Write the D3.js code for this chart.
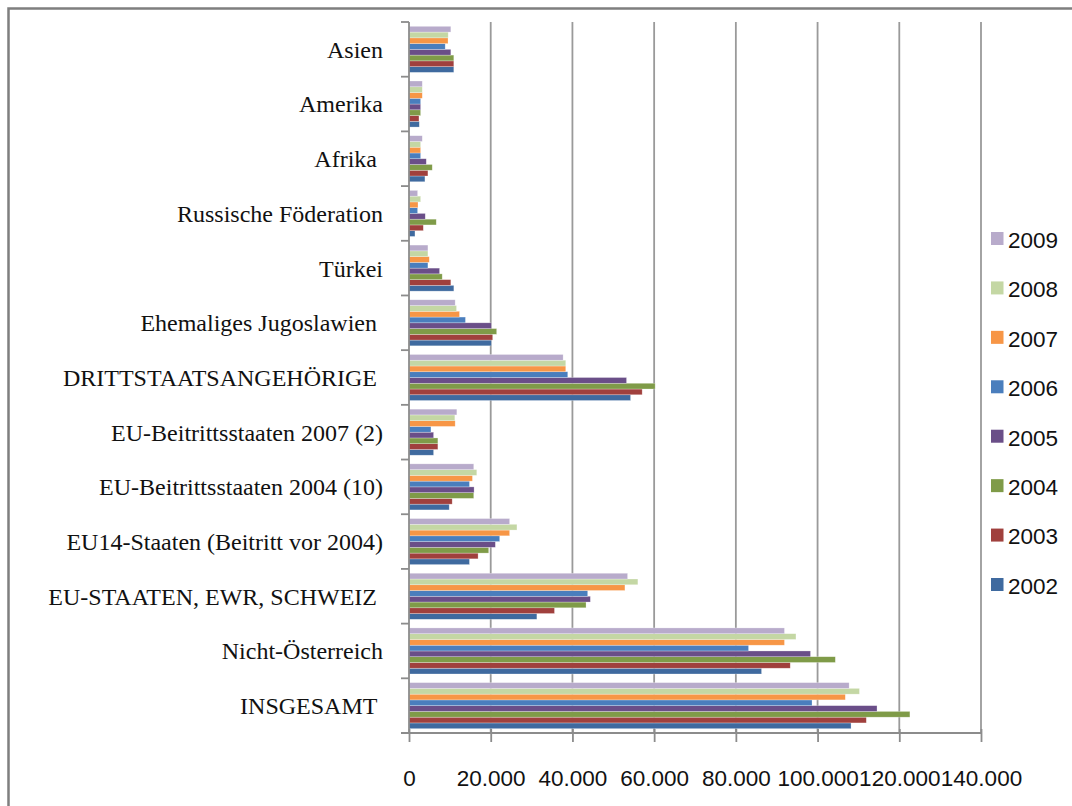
<!DOCTYPE html>
<html>
<head>
<meta charset="utf-8">
<script src="https://cdn.jsdelivr.net/npm/d3@7"></script>
<style>
  html, body { margin: 0; padding: 0; background: #fff; }
  svg { display: block; }
</style>
</head>
<body>
<svg id="chart" width="1072" height="806"></svg>
<script>
// Categories, top to bottom
const categories = [
  "Asien",
  "Amerika",
  "Afrika ",
  "Russische Föderation",
  "Türkei",
  "Ehemaliges Jugoslawien ",
  "DRITTSTAATSANGEHÖRIGE ",
  "EU-Beitrittsstaaten 2007 (2)",
  "EU-Beitrittsstaaten 2004 (10)",
  "EU14-Staaten (Beitritt vor 2004)",
  "EU-STAATEN, EWR, SCHWEIZ ",
  "Nicht-Österreich",
  "INSGESAMT "
];

const years = ["2002", "2003", "2004", "2005", "2006", "2007", "2008", "2009"];

// One array per year, values in category order
const v2002 = [10970, 2520, 3900, 1460, 10980, 20160, 54230, 6020, 9840, 14800, 31300, 86290, 108190];
const v2003 = [10970, 2440, 4630, 3500, 10240, 20490, 57070, 7070, 10570, 16910, 35610, 93310, 111930];
const v2004 = [10970, 2850, 5690, 6670, 8130, 21460, 60240, 7070, 15850, 19510, 43330, 104350, 122600];
const v2005 = [10240, 2850, 4230, 3980, 7480, 20160, 53250, 6020, 15930, 21140, 44390, 98270, 114550];
const v2006 = [8860, 2850, 2850, 2110, 4630, 13820, 38860, 5370, 14800, 22200, 43740, 83110, 98640];
const v2007 = [9550, 3250, 2850, 2200, 4960, 12360, 38370, 11300, 15530, 24630, 52850, 91900, 106790];
const v2008 = [9590, 3250, 2850, 2850, 4630, 11630, 38370, 11220, 16590, 26420, 56020, 94710, 110250];
const v2009 = [10240, 3250, 3250, 2110, 4630, 11300, 37720, 11710, 15850, 24630, 53500, 91900, 107720];

const seriesValues = [v2002, v2003, v2004, v2005, v2006, v2007, v2008, v2009];
const seriesColors = ["#3f6a9f", "#a0403d", "#7f9b48", "#6a4e88", "#4a7ebd", "#f79646", "#c4d7a4", "#b8abcb"];

const xTicks = [0, 20000, 40000, 60000, 80000, 100000, 120000, 140000];

const svg = d3.select("#chart");

// Outer frame of the chart area
svg.append("rect")
  .attr("x", 8.5).attr("y", 8.5)
  .attr("width", 1100).attr("height", 900)
  .attr("fill", "#fff")
  .attr("stroke", "#7f7f7f")
  .attr("stroke-width", 2.5);

const plot = { left: 409, right: 981, top: 22, bottom: 733 };

const x = d3.scaleLinear().domain([0, 140000]).range([plot.left, plot.right]);

const gapRatio = 1.5 / 9.5; // Excel-style 150% gap width
const y0 = d3.scaleBand()
  .domain(categories)
  .range([plot.top, plot.bottom])
  .paddingInner(gapRatio)
  .paddingOuter(gapRatio / 2);

// Newest year drawn on top within each group
const y1 = d3.scaleBand()
  .domain(years.slice().reverse())
  .range([0, y0.bandwidth()]);

const de = d3.formatLocale({ decimal: ",", thousands: ".", grouping: [3], currency: ["", " €"] });
const fmt = de.format(",d");

// Vertical gridlines
svg.append("g")
  .selectAll("line")
  .data(xTicks.slice(1))
  .join("line")
  .attr("x1", d => x(d)).attr("x2", d => x(d))
  .attr("y1", plot.top).attr("y2", plot.bottom)
  .attr("stroke", "#9a9a9a")
  .attr("stroke-width", 1.8);

// Bars
const groups = svg.append("g")
  .selectAll("g")
  .data(years)
  .join("g")
  .attr("fill", (d, i) => seriesColors[i]);

groups.selectAll("rect")
  .data((yr, i) => categories.map((c, j) => ({ cat: c, year: yr, value: seriesValues[i][j] })))
  .join("rect")
  .attr("x", x(0))
  .attr("y", d => y0(d.cat) + y1(d.year))
  .attr("width", d => x(d.value) - x(0))
  .attr("height", y1.bandwidth())
  .attr("stroke", "#ffffff")
  .attr("stroke-opacity", 0.45)
  .attr("stroke-width", 0.6);

// Bottom axis
const xAxis = d3.axisBottom(x)
  .tickValues(xTicks)
  .tickFormat(d => fmt(d))
  .tickSize(9)
  .tickSizeOuter(0)
  .tickPadding(28);

const gx = svg.append("g")
  .attr("transform", `translate(0,${plot.bottom})`)
  .call(xAxis);
gx.select(".domain").attr("stroke", "#8c8c8c").attr("stroke-width", 1.8)
  .attr("d", `M${plot.left - 8},0H${plot.right}`);
gx.selectAll(".tick line").attr("stroke", "#8c8c8c").attr("stroke-width", 1.8).attr("y1", -4);
gx.selectAll(".tick text")
  .attr("font-family", "'Liberation Sans', Arial, sans-serif")
  .attr("font-size", "22.5px")
  .attr("fill", "#111");

// Left axis: line, boundary ticks between categories, labels
const ga = svg.append("g");
ga.append("line")
  .attr("x1", plot.left).attr("x2", plot.left)
  .attr("y1", plot.top).attr("y2", plot.bottom)
  .attr("stroke", "#8c8c8c").attr("stroke-width", 1.8);

const step = y0.step();
const boundaries = d3.range(categories.length + 1).map(i => plot.top + i * step);
ga.selectAll("line.tick")
  .data(boundaries)
  .join("line")
  .attr("class", "tick")
  .attr("x1", plot.left - 8).attr("x2", plot.left)
  .attr("y1", d => d).attr("y2", d => d)
  .attr("stroke", "#8c8c8c").attr("stroke-width", 1.8);

ga.selectAll("text")
  .data(categories)
  .join("text")
  .attr("x", 383)
  .attr("y", d => y0(d) + y0.bandwidth() / 2)
  .attr("dy", "0.35em")
  .attr("text-anchor", "end")
  .attr("xml:space", "preserve")
  .style("white-space", "pre")
  .attr("font-family", "'Liberation Serif', 'Times New Roman', serif")
  .attr("font-size", "24px")
  .attr("fill", "#111")
  .text(d => d);

// Legend, newest year first
const legendYears = years.slice().reverse();
const legendColors = seriesColors.slice().reverse();
const ly = d3.scalePoint().domain(legendYears).range([239, 585]);

const lg = svg.append("g")
  .selectAll("g")
  .data(legendYears)
  .join("g")
  .attr("transform", d => `translate(991,${ly(d)})`);

lg.append("rect")
  .attr("x", 0).attr("y", -7)
  .attr("width", 12.5).attr("height", 13)
  .attr("fill", (d, i) => legendColors[i]);

lg.append("text")
  .attr("x", 17)
  .attr("y", 1)
  .attr("dy", "0.35em")
  .attr("font-family", "'Liberation Sans', Arial, sans-serif")
  .attr("font-size", "22.5px")
  .attr("fill", "#111")
  .text(d => d);
</script>
</body>
</html>
